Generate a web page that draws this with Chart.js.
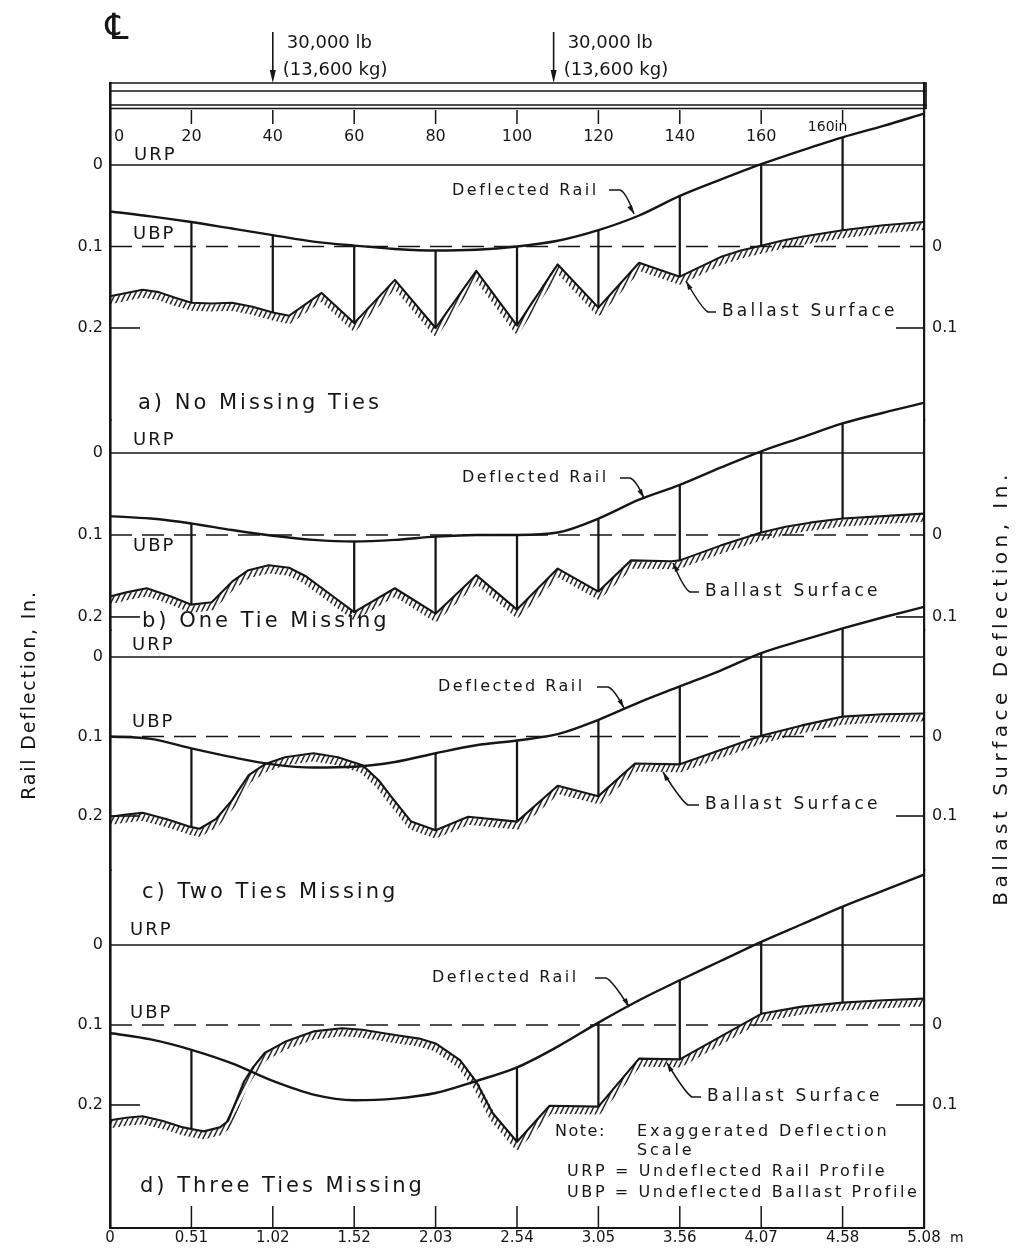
<!DOCTYPE html>
<html><head><meta charset="utf-8">
<script src="https://cdn.jsdelivr.net/npm/chart.js@4.4.1/dist/chart.umd.min.js"></script>
<style>html,body{margin:0;padding:0;background:#fff;}canvas{display:block;}</style>
</head><body>
<canvas id="c" width="1028" height="1256"></canvas>
<script>
// ---------------- DATA (inches along track / inches of deflection) ----------------
const railX = [0,10,20,30,40,50,60,70,80,90,100,110,120,130,140,150,160,170,180,190,200];
const railA = [0.057,0.063,0.070,0.078,0.086,0.094,0.099,0.103,0.105,0.104,0.100,0.093,0.080,0.062,0.038,0.018,-0.001,-0.018,-0.034,-0.048,-0.063];
const railB = [0.077,0.080,0.086,0.094,0.101,0.106,0.108,0.106,0.102,0.100,0.100,0.097,0.080,0.057,0.039,0.018,-0.002,-0.019,-0.036,-0.049,-0.061];
const railC = [0.100,0.103,0.115,0.126,0.135,0.139,0.138,0.132,0.121,0.111,0.105,0.097,0.079,0.057,0.037,0.017,-0.005,-0.021,-0.036,-0.050,-0.063];
const railD = [0.110,0.118,0.131,0.148,0.170,0.187,0.194,0.192,0.185,0.170,0.153,0.127,0.097,0.069,0.044,0.020,-0.004,-0.026,-0.048,-0.068,-0.088];

const ballastAX = [0,4,8,12,16,20,25,30,35,40,44,52,60,70,80,90,100,110,120,130,140,145,150,155,160,165,170,175,180,190,200];
const ballastAY = [0.161,0.157,0.153,0.156,0.163,0.169,0.170,0.169,0.174,0.181,0.185,0.157,0.194,0.141,0.200,0.130,0.197,0.122,0.175,0.120,0.137,0.125,0.113,0.105,0.099,0.093,0.088,0.084,0.080,0.074,0.070];
const ballastBX = [0,4,9,15,20,25,30,34,39,44,48,54,60,70,80,90,100,110,120,128,138,140,150,160,166,172,180,190,200];
const ballastBY = [0.175,0.170,0.165,0.175,0.185,0.182,0.157,0.143,0.137,0.140,0.150,0.172,0.194,0.165,0.196,0.149,0.191,0.141,0.169,0.131,0.132,0.131,0.113,0.097,0.090,0.085,0.080,0.077,0.074];
const ballastCX = [0,4,8,14,20,22,26,30,34,38,43,50,56,62,66,69,74,80,88,100,110,120,129,140,150,160,170,180,190,200];
const ballastCY = [0.201,0.198,0.196,0.204,0.214,0.216,0.204,0.180,0.149,0.135,0.126,0.121,0.126,0.136,0.155,0.175,0.207,0.218,0.201,0.207,0.162,0.175,0.134,0.135,0.117,0.099,0.086,0.075,0.072,0.071];
const ballastDX = [0,4,8,13,18,20,23,27,29,31,33,35,38,43,50,57,62,70,76,80,86,90,94,100,108,120,130,140,160,170,180,190,200];
const ballastDY = [0.219,0.216,0.214,0.220,0.228,0.230,0.233,0.228,0.220,0.195,0.170,0.154,0.135,0.121,0.108,0.104,0.106,0.1125,0.117,0.123,0.144,0.171,0.210,0.246,0.201,0.202,0.142,0.143,0.086,0.077,0.072,0.069,0.067];

const tiesA = [20,40,60,80,100,120,140,160,180];
const tiesB = [20,60,80,100,120,140,160,180];
const tiesC = [20,80,100,120,140,160,180];
const tiesD = [20,100,120,140,160,180];

const URP_LEVEL = 0;      // undeflected rail profile
const UBP_LEVEL = 0.1;    // undeflected ballast profile
const loadX = [40,109];
const loadLine1 = ['30,000 lb','30,000 lb'];
const loadLine2 = ['(13,600 kg)','(13,600 kg)'];

const xTickValues = [0,20,40,60,80,100,120,140,160,180,200];
const meterLabels = ['0','0.51','1.02','1.52','2.03','2.54','3.05','3.56','4.07','4.58','5.08'];
const topTickValues = [0,20,40,60,80,100,120,140,160,180];
const topTickLabels = ['0','20','40','60','80','100','120','140','160','160in'];
const railTickValues = [0,0.1,0.2];
const railTickLabels = ['0','0.1','0.2'];
const ballastTickValues = [0.1,0.2];
const ballastTickLabels = ['0','0.1'];

const panelTitles = ['a) No Missing Ties','b) One Tie Missing','c) Two Ties Missing','d) Three Ties Missing'];

// ---------------- LAYOUT / STYLE ----------------
const INK = '#161616';
const FONT = '"DejaVu Sans", Verdana, sans-serif';
const PANEL_LAYOUT = {
  A:{weight:337, min:-0.1006, max:0.3129},
  B:{weight:210, min:-0.0402, max:0.2159},
  C:{weight:240, min:-0.0340, max:0.2679},
  D:{weight:358, min:-0.0938, max:0.3538}
};
const ANNOT = {
  A:{urp:[134,155], ubp:[133,234], rail:[452,191], ballast:[722,312], title:[138,404],
     railLead:[[601,190],[612,190],[630,214]], balLead:[[716,312],[708,312],[686,281]]},
  B:{urp:[133,440], ubp:[133,546], rail:[462,478], ballast:[705,592], title:[142,622],
     railLead:[[612,478],[622,478],[640,498]], balLead:[[699,592],[690,592],[673,563]]},
  C:{urp:[132,645], ubp:[132,722], rail:[438,687], ballast:[705,805], title:[142,893],
     railLead:[[589,687],[600,687],[620,708]], balLead:[[699,805],[688,805],[663,772]]},
  D:{urp:[130,930], ubp:[130,1013], rail:[432,978], ballast:[707,1097], title:[140,1187],
     railLead:[[587,978],[598,978],[625,1007]], balLead:[[701,1097],[692,1097],[667,1063]]}
};

const PANELS = [
  {id:'A', rail:railA, bx:ballastAX, by:ballastAY, ties:tiesA},
  {id:'B', rail:railB, bx:ballastBX, by:ballastBY, ties:tiesB},
  {id:'C', rail:railC, bx:ballastCX, by:ballastCY, ties:tiesC},
  {id:'D', rail:railD, bx:ballastDX, by:ballastDY, ties:tiesD}
];

function lookup(xs, ys, x){
  const i = xs.indexOf(x);
  if (i >= 0) return ys[i];
  for (let k=0;k<xs.length-1;k++){ if (x>=xs[k] && x<=xs[k+1]) return ys[k]+(ys[k+1]-ys[k])*(x-xs[k])/(xs[k+1]-xs[k]); }
  return ys[ys.length-1];
}

// hatch pattern for ballast (steep "////" strokes)
const pc = document.createElement('canvas'); pc.width = 5; pc.height = 10;
const pctx = pc.getContext('2d');
pctx.strokeStyle = '#111'; pctx.lineWidth = 1.4; pctx.lineCap = 'butt';
pctx.beginPath();
pctx.moveTo(-1,12); pctx.lineTo(6,-2);
pctx.moveTo(-1.5,3); pctx.lineTo(1.5,-3);
pctx.moveTo(3.5,13); pctx.lineTo(6.5,7);
pctx.stroke();
const hatchPattern = document.getElementById('c').getContext('2d').createPattern(pc,'repeat');

const datasets = [];
PANELS.forEach(p => {
  const yID = 'y'+p.id;
  const common = {yAxisID:yID, xAxisID:'x', pointRadius:0, clip:false, fill:false};
  datasets.push(Object.assign({label:'URP '+p.id, data:[{x:0,y:URP_LEVEL},{x:200,y:URP_LEVEL}], borderColor:INK, borderWidth:1.5}, common));
  datasets.push(Object.assign({label:'UBP '+p.id, data:[{x:0,y:UBP_LEVEL},{x:200,y:UBP_LEVEL}], borderColor:INK, borderWidth:1.5, borderDash:[22,10]}, common));
  datasets.push(Object.assign({label:'Rail '+p.id, data:railX.map((x,i)=>({x, y:p.rail[i]})), borderColor:INK, borderWidth:2.4, cubicInterpolationMode:'monotone'}, common));
  datasets.push(Object.assign({label:'Ballast hatch '+p.id, hatch:true, data:p.bx.map((x,i)=>({x, y:p.by[i]})), borderColor:hatchPattern, borderWidth:7, tension:0, borderJoinStyle:'round'}, common));
  datasets.push(Object.assign({label:'Ballast '+p.id, data:p.bx.map((x,i)=>({x, y:p.by[i]})), borderColor:INK, borderWidth:2.1, tension:0, borderJoinStyle:'round'}, common));
  datasets.push({type:'bar', label:'Ties '+p.id, yAxisID:yID, xAxisID:'x', clip:false, grouped:false,
    data:p.ties.map(x => ({x, y:[lookup(railX,p.rail,x), lookup(p.bx,p.by,x)]})),
    backgroundColor:INK, borderWidth:0, barThickness:1.6});
});

const scales = {
  x:{type:'linear', min:0, max:200, position:'bottom', offset:false,
     afterBuildTicks:s=>{s.ticks = xTickValues.map(v=>({value:v}));},
     afterFit:s=>{s.height = 28;},
     ticks:{autoSkip:false, maxRotation:0, padding:1, color:INK, font:{family:FONT, size:15},
            callback:(v,i)=>meterLabels[i]},
     grid:{display:false, drawTicks:false, offset:false},
     border:{display:true, color:INK, width:2}}
};
const leftOrder = {A:4,B:3,C:2,D:1}, rightOrder = {A:1,B:2,C:3,D:4};
PANELS.forEach(p => {
  const L = PANEL_LAYOUT[p.id];
  scales['y'+p.id] = {type:'linear', position:'left', stack:'left', stackWeight:L.weight, weight:leftOrder[p.id],
    min:L.min, max:L.max, reverse:true,
    afterBuildTicks:s=>{s.ticks = railTickValues.map(v=>({value:v}));},
    afterFit:s=>{s.width = 110;},
    ticks:{autoSkip:false, padding:7, color:INK, font:{family:FONT, size:16}, callback:(v,i)=>railTickLabels[i]},
    grid:{display:false, drawTicks:false},
    border:{display:true, color:INK, width:2.6}};
  scales['r'+p.id] = {type:'linear', position:'right', stack:'right', stackWeight:L.weight, weight:rightOrder[p.id],
    min:L.min, max:L.max, reverse:true,
    afterBuildTicks:s=>{s.ticks = ballastTickValues.map(v=>({value:v}));},
    afterFit:s=>{s.width = 104;},
    ticks:{autoSkip:false, padding:8, color:INK, font:{family:FONT, size:16}, callback:(v,i)=>ballastTickLabels[i]},
    grid:{display:false, drawTicks:false},
    border:{display:true, color:INK, width:2.2}};
});

function line(ctx,x1,y1,x2,y2){ctx.beginPath();ctx.moveTo(x1,y1);ctx.lineTo(x2,y2);ctx.stroke();}
function txt(ctx,s,x,y,size,sp,align){ctx.font=size+'px '+FONT;ctx.letterSpacing=(sp||0)+'px';ctx.textAlign=align||'left';ctx.textBaseline='middle';ctx.fillText(s,x,y);ctx.letterSpacing='0px';}
function arrowHead(ctx, from, to, len, wid){
  const a = Math.atan2(to[1]-from[1], to[0]-from[0]);
  ctx.beginPath(); ctx.moveTo(to[0],to[1]);
  ctx.lineTo(to[0]-len*Math.cos(a)+wid*Math.sin(a), to[1]-len*Math.sin(a)-wid*Math.cos(a));
  ctx.lineTo(to[0]-len*Math.cos(a)-wid*Math.sin(a), to[1]-len*Math.sin(a)+wid*Math.cos(a));
  ctx.closePath(); ctx.fill();
}

const deco = {
  id:'deco',
  beforeDatasetDraw(chart,args){ if (chart.data.datasets[args.index].hatch){ chart.ctx.save(); chart.ctx.translate(0,4.5);} },
  afterDatasetDraw(chart,args){ if (chart.data.datasets[args.index].hatch){ chart.ctx.restore(); } },
  afterDraw(chart){
    const ctx = chart.ctx, xs = chart.scales.x, ca = chart.chartArea;
    ctx.save(); ctx.strokeStyle = INK; ctx.fillStyle = INK; ctx.lineCap = 'butt';
    // rail (header) drawing
    ctx.lineWidth = 1.7;
    [83,91,105,108.5].forEach(y=>line(ctx, ca.left, y, ca.right+3, y));
    line(ctx, ca.right+2, 83, ca.right+2, 109);
    // top inch ticks & labels
    ctx.lineWidth = 1.5;
    topTickValues.forEach((v,i)=>{
      const px = xs.getPixelForValue(v);
      if (v>0) line(ctx, px, 110, px, 124);
      if (i===0) txt(ctx, topTickLabels[i], px+9, 137, 16, 0, 'center');
      else if (i===topTickLabels.length-1) txt(ctx, topTickLabels[i], px-15, 127, 14, 0, 'center');
      else txt(ctx, topTickLabels[i], px, 137, 16, 0, 'center');
    });
    // bottom inner ticks
    xTickValues.forEach(v=>{ if (v>0 && v<200){ const px = xs.getPixelForValue(v); line(ctx, px, ca.bottom, px, ca.bottom-22);} });
    txt(ctx, 'm', 950, 1238, 14, 0, 'left');
    // loads
    loadX.forEach((v,i)=>{
      const px = xs.getPixelForValue(v);
      ctx.lineWidth = 1.6; line(ctx, px, 32, px, 76);
      ctx.beginPath(); ctx.moveTo(px-3,70); ctx.lineTo(px+3,70); ctx.lineTo(px,83); ctx.closePath(); ctx.fill();
      txt(ctx, loadLine1[i], px+14, 43, 18, 0);
      txt(ctx, loadLine2[i], px+10, 70, 18, 0);
    });
    // centre line symbol
    txt(ctx, '\u2104', 117, 30, 36, 0, 'center');
    // panels
    PANELS.forEach((p,k)=>{
      const ys = chart.scales['y'+p.id];
      const an = ANNOT[p.id];
      ctx.lineWidth = 1.6;
      const y2 = ys.getPixelForValue(0.2);
      line(ctx, ca.left, y2, ca.left+30, y2);
      line(ctx, ca.right-28, y2, ca.right, y2);
      txt(ctx, 'URP', an.urp[0], an.urp[1], 18, 2);
      txt(ctx, 'UBP', an.ubp[0], an.ubp[1], 18, 2);
      txt(ctx, 'Deflected Rail', an.rail[0], an.rail[1], 16, 2.5);
      txt(ctx, 'Ballast Surface', an.ballast[0], an.ballast[1], 17, 3.2);
      txt(ctx, panelTitles[k], an.title[0], an.title[1], 21, 3);
      // leaders
      ctx.lineWidth = 1.5;
      const r = an.railLead;
      ctx.beginPath(); ctx.moveTo(r[0][0]+8,r[0][1]); ctx.lineTo(r[1][0]+8,r[1][1]);
      ctx.quadraticCurveTo(r[1][0]+14, r[1][1]+2, r[2][0]+4, r[2][1]); ctx.stroke();
      arrowHead(ctx, [r[2][0]-1, r[2][1]-9], [r[2][0]+4, r[2][1]], 9, 2.5);
      const b = an.balLead;
      ctx.beginPath(); ctx.moveTo(b[0][0],b[0][1]); ctx.lineTo(b[1][0],b[1][1]);
      ctx.quadraticCurveTo(b[1][0]-6, b[1][1]-3, b[2][0], b[2][1]); ctx.stroke();
      arrowHead(ctx, [b[2][0]+5, b[2][1]+9], b[2], 9, 2.5);
    });
    // note
    txt(ctx, 'Note:', 555, 1132, 16, 1.5);
    txt(ctx, 'Exaggerated Deflection', 637, 1132, 16, 2.9);
    txt(ctx, 'Scale', 637, 1151, 16, 2.9);
    txt(ctx, 'URP = Undeflected Rail Profile', 567, 1172, 16, 2.6);
    txt(ctx, 'UBP = Undeflected Ballast Profile', 567, 1193, 16, 2.6);
    // axis titles
    ctx.save(); ctx.translate(30, 695); ctx.rotate(-Math.PI/2); txt(ctx, 'Rail Deflection, In.', 0, 0, 19, 1.8, 'center'); ctx.restore();
    ctx.save(); ctx.translate(1002, 688); ctx.rotate(-Math.PI/2); txt(ctx, 'Ballast Surface Deflection, In.', 0, 0, 20, 4.5, 'center'); ctx.restore();
    ctx.restore();
  }
};

new Chart(document.getElementById('c'), {
  type:'line',
  data:{datasets},
  options:{
    responsive:false, animation:false, devicePixelRatio:1,
    layout:{padding:{top:83, left:0, right:0, bottom:0}},
    plugins:{legend:{display:false}, tooltip:{enabled:false}, title:{display:false}},
    events:[],
    scales
  },
  plugins:[deco]
});
</script>
</body></html>
